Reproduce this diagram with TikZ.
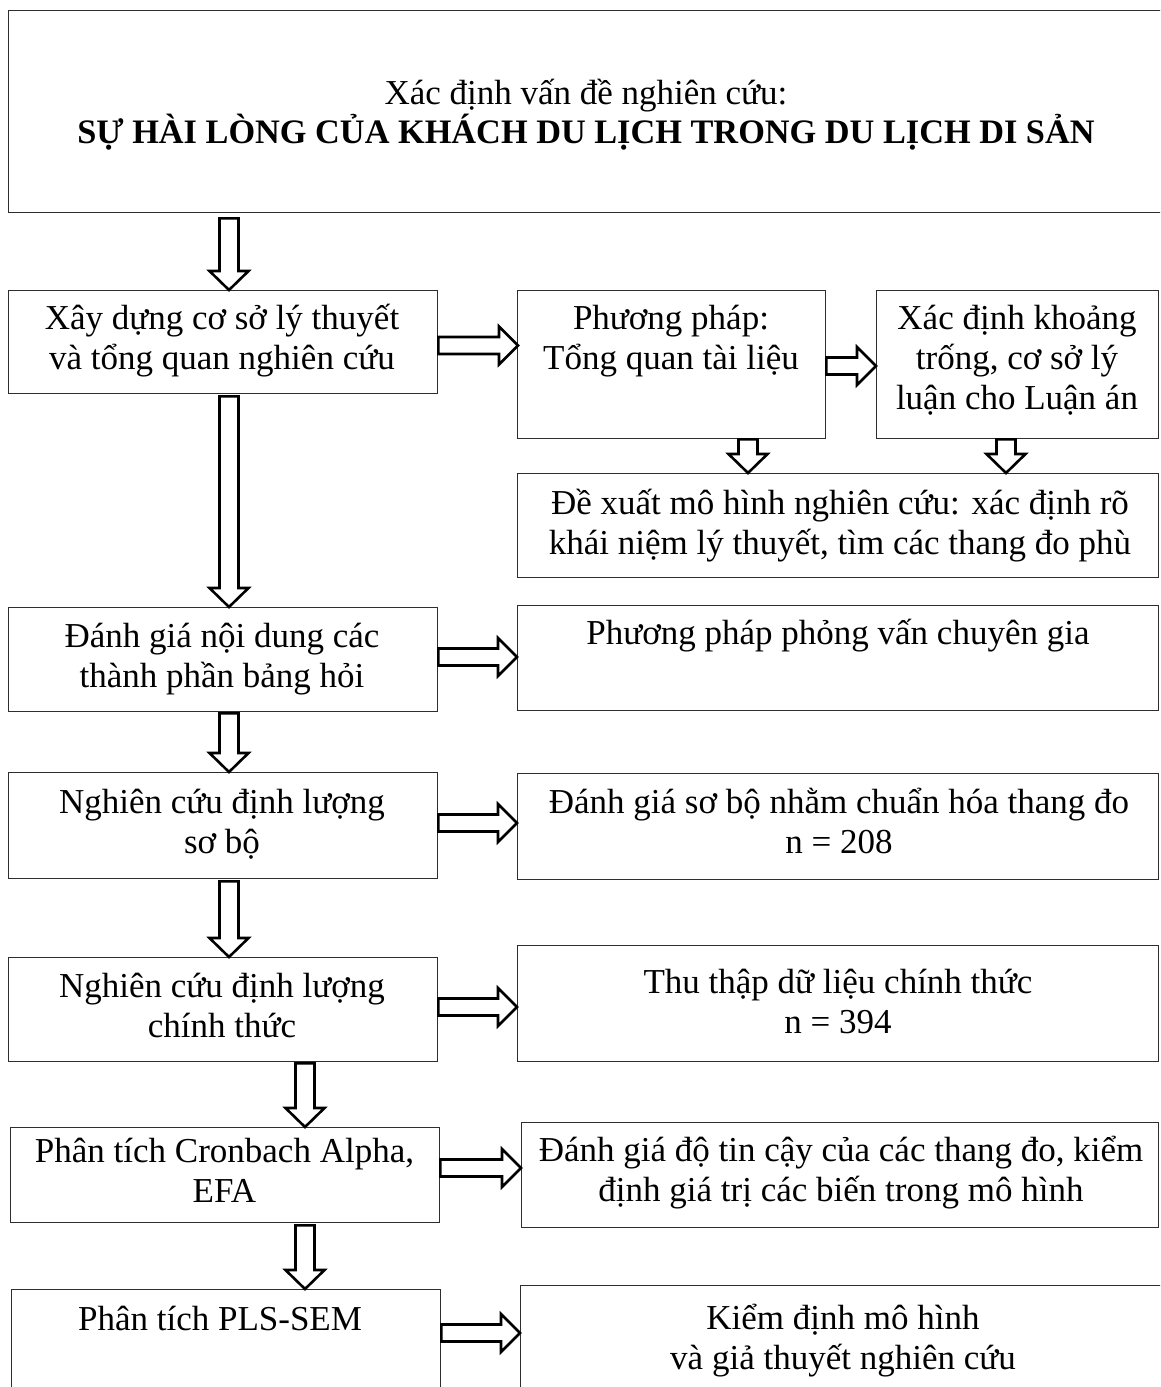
\documentclass[tikz,border=0pt]{standalone}
\usepackage{fontspec}
\setmainfont{Liberation Serif}
\usetikzlibrary{calc}

\tikzset{
  box/.style={draw=black!82, line width=1.4pt, anchor=north west, inner sep=0pt, fill=white},
  txt/.style={align=center, inner sep=0pt, font=\fontsize{35}{40}\selectfont},
  blockarrow/.style={draw=black, line width=2.6pt, fill=white, line join=miter}
}

% hollow block arrow pointing down: start point, tip point (x taken from start)
\newcommand\blockdown[2]{%
  \draw[blockarrow] let \p1=#1, \p2=#2 in
    (\x1-9.5pt,\y1) -- (\x1+9.5pt,\y1) -- (\x1+9.5pt,\y2+19pt) -- (\x1+19.5pt,\y2+19pt)
    -- (\x1,\y2) -- (\x1-19.5pt,\y2+19pt) -- (\x1-9.5pt,\y2+19pt) -- cycle;}

% hollow block arrow pointing right: start point, tip point (y taken from start)
\newcommand\blockright[2]{%
  \draw[blockarrow] let \p1=#1, \p2=#2 in
    (\x1,\y1+8.5pt) -- (\x2-19pt,\y1+8.5pt) -- (\x2-19pt,\y1+19pt) -- (\x2,\y1)
    -- (\x2-19pt,\y1-19pt) -- (\x2-19pt,\y1-8.5pt) -- (\x1,\y1-8.5pt) -- cycle;}

\begin{document}
\begin{tikzpicture}[x=1pt,y=-1pt]
\clip (0,0) rectangle (1160,1387);
\fill[white] (0,0) rectangle (1160,1387);

% boxes
\node[box, minimum width=1158pt, minimum height=202pt] (top) at (8,10) {};
\node[box, minimum width=429pt, minimum height=103pt] (l1) at (8,290) {};
\node[box, minimum width=308pt, minimum height=148pt] (m1) at (517,290) {};
\node[box, minimum width=282pt, minimum height=148pt] (r1) at (876,290) {};
\node[box, minimum width=641pt, minimum height=104pt] (p) at (517,473) {};
\node[box, minimum width=429pt, minimum height=104pt] (l2) at (8,607) {};
\node[box, minimum width=641pt, minimum height=105pt] (r2) at (517,605) {};
\node[box, minimum width=429pt, minimum height=106pt] (l3) at (8,772) {};
\node[box, minimum width=641pt, minimum height=106pt] (r3) at (517,773) {};
\node[box, minimum width=429pt, minimum height=104pt] (l4) at (8,957) {};
\node[box, minimum width=641pt, minimum height=116pt] (r4) at (517,945) {};
\node[box, minimum width=429pt, minimum height=95pt] (l5) at (10,1127) {};
\node[box, minimum width=637pt, minimum height=105pt] (r5) at (521,1122) {};
\node[box, minimum width=429pt, minimum height=130pt] (l6) at (11,1289) {};
\node[box, minimum width=660pt, minimum height=130pt] (r6) at (520,1285) {};

% texts
\node[txt] (topt) at (586,116) {\strut Xác định vấn đề nghiên cứu:\\[-3pt]\strut{\fontsize{34.3}{40}\selectfont\bfseries SỰ HÀI LÒNG CỦA KHÁCH DU LỊCH TRONG DU LỊCH DI SẢN}};
\node[txt] (l1t) at (222,341) {\strut Xây dựng cơ sở lý thuyết\\\strut và tổng quan nghiên cứu};
\node[txt] (m1t) at (671,341) {\strut Phương pháp:\\\strut Tổng quan tài liệu};
\node[txt] (r1t) at (1017,361) {\strut Xác định khoảng\\\strut trống, cơ sở lý\\\strut luận cho Luận án};
\node[txt] (pt) at (840,526) {\strut Đề xuất mô hình nghiên cứu: xác định rõ\\\strut khái niệm lý thuyết, tìm các thang đo phù};
\node[txt] (l2t) at (222,659) {\strut Đánh giá nội dung các\\\strut thành phần bảng hỏi};
\node[txt] (r2t) at (838,636) {\strut Phương pháp phỏng vấn chuyên gia};
\node[txt] (l3t) at (222,825) {\strut Nghiên cứu định lượng\\\strut sơ bộ};
\node[txt] (r3t) at (839,825) {\strut Đánh giá sơ bộ nhằm chuẩn hóa thang đo\\\strut n = 208};
\node[txt] (l4t) at (222,1009) {\strut Nghiên cứu định lượng\\\strut chính thức};
\node[txt] (r4t) at (838,1005) {\strut Thu thập dữ liệu chính thức\\\strut n = 394};
\node[txt] (l5t) at (224.5,1174) {\strut Phân tích Cronbach Alpha,\\\strut EFA};
\node[txt] (r5t) at (841,1173) {\strut Đánh giá độ tin cậy của các thang đo, kiểm\\\strut định giá trị các biến trong mô hình};
\node[txt] (l6t) at (220,1322) {\strut Phân tích PLS-SEM};
\node[txt] (r6t) at (843,1341) {\strut Kiểm định mô hình\\\strut và giả thuyết nghiên cứu};

% downward block arrows
\blockdown{($(top.south west)+(221,5)$)}{($(l1.north west)+(221,0)$)}
\blockdown{($(l1.south west)+(221,2)$)}{($(l2.north west)+(221,0)$)}
\blockdown{($(l2.south west)+(221,1)$)}{($(l3.north west)+(221,0)$)}
\blockdown{($(l3.south west)+(221,2)$)}{($(l4.north west)+(221,0)$)}
\blockdown{($(l4.south west)+(297,1)$)}{($(l5.north west)+(295,0)$)}
\blockdown{($(l5.south west)+(295,2)$)}{($(l6.north west)+(294,0)$)}
\blockdown{($(m1.south west)+(231,0)$)}{($(p.north west)+(231,0)$)}
\blockdown{($(r1.south west)+(130,0)$)}{($(p.north west)+(489,0)$)}

% rightward block arrows
\blockright{($(l1.north east)+(0,55.5)$)}{($(m1.north west)+(1,55.5)$)}
\blockright{($(m1.north east)+(0,76)$)}{($(r1.north west)+(0,76)$)}
\blockright{($(l2.north east)+(0,50)$)}{($(r2.north west)+(0,52)$)}
\blockright{($(l3.north east)+(0,51)$)}{($(r3.north west)+(0,50)$)}
\blockright{($(l4.north east)+(0,50)$)}{($(r4.north west)+(0,62)$)}
\blockright{($(l5.north east)+(0,41)$)}{($(r5.north west)+(0,46)$)}
\blockright{($(l6.north east)+(0,44)$)}{($(r6.north west)+(0,48)$)}
\end{tikzpicture}
\end{document}
